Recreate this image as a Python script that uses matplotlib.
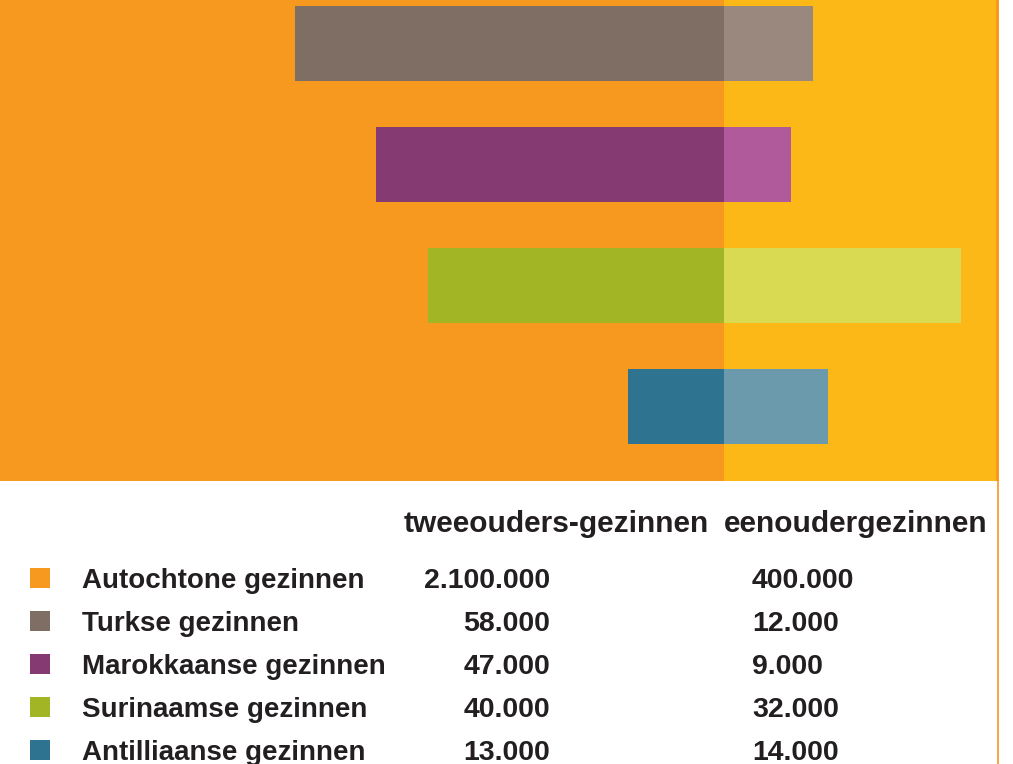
import matplotlib
matplotlib.use("Agg")
import matplotlib.pyplot as plt
from matplotlib.patches import Rectangle
import numpy as np

# ── Data ──────────────────────────────────────────────────────────────────────
groups = ["Autochtone gezinnen", "Turkse gezinnen", "Marokkaanse gezinnen",
          "Surinaamse gezinnen", "Antilliaanse gezinnen"]
tweeouder = [2100000, 58000, 47000, 40000, 13000]
eenouder = [400000, 12000, 9000, 32000, 14000]
header = ["tweeouders-gezinnen", "eenoudergezinnen"]

# colours: (dark, on orange field) / (light, on yellow field)
col_dark = ["#F7981F", "#7F6E64", "#853A72", "#A2B525", "#2E7490"]
col_light = ["#FCB817", "#9A877D", "#B05A9C", "#D9DA52", "#6B9AAD"]

ORANGE = "#F7981F"
YELLOW = "#FCB817"

def fmt(v):
    return f"{v:,}".replace(",", ".")

W, H = 1013, 764
fig = plt.figure(figsize=(W / 100, H / 100), dpi=100)
fig.patch.set_facecolor("white")

# ── Top panel: mirrored bars (autochtone = background field) ─────────────────
px_per_k = 7.4                      # pixels per 1000 families
zero_px, right_px, top_h = 724, 998, 481
ax = fig.add_axes([0, 1 - top_h / H, right_px / W, top_h / H])
ax.set_xlim(-zero_px / px_per_k, (right_px - zero_px) / px_per_k)
ax.set_ylim((top_h - 43.5) / 121, -43.5 / 121)
ax.axvspan(ax.get_xlim()[0], 0, color=ORANGE, lw=0)
ax.axvspan(0, ax.get_xlim()[1], color=YELLOW, lw=0)

y = np.arange(len(groups) - 1)
two_k = np.array(tweeouder[1:]) / 1000
one_k = np.array(eenouder[1:]) / 1000
ax.barh(y, -two_k, height=75 / 121, color=col_dark[1:], lw=0)
ax.barh(y, one_k, height=75 / 121, color=col_light[1:], lw=0)
ax.axis("off")

# right orange rule
fig.add_artist(plt.Line2D([997.5 / W, 997.5 / W], [0, 1],
                          transform=fig.transFigure, color=ORANGE, lw=1.2))
fig.add_artist(Rectangle((996 / W, 1 - top_h / H), 3 / W, top_h / H,
                         transform=fig.transFigure, color=ORANGE, lw=0))

# ── Table below ──────────────────────────────────────────────────────────────
tx = fig.add_axes([0, 0, 1, 1], facecolor="none")
tx.set_xlim(0, W)
tx.set_ylim(H, 0)
tx.axis("off")

font = dict(family="Liberation Sans", fontweight="bold", color="#231F20")
tx.text(404, 532.5, header[0], fontsize=21.5, va="baseline", ha="left", **font)
tx.text(724, 532.5, header[1], fontsize=21.5, va="baseline", ha="left", **font)

row_base = 588 + 43 * np.arange(len(groups))
for i, g in enumerate(groups):
    yb = row_base[i]
    tx.add_patch(Rectangle((30, yb - 20), 20, 20, color=col_dark[i], lw=0))
    tx.text(82, yb, g, fontsize=20, va="baseline", ha="left", **font)
    tx.text(550, yb, fmt(tweeouder[i]), fontsize=20.5, va="baseline", ha="right", **font)
    tx.text(752, yb, fmt(eenouder[i]), fontsize=20.5, va="baseline", ha="left", **font)

fig.savefig("out.png", dpi=100, facecolor=fig.get_facecolor())
